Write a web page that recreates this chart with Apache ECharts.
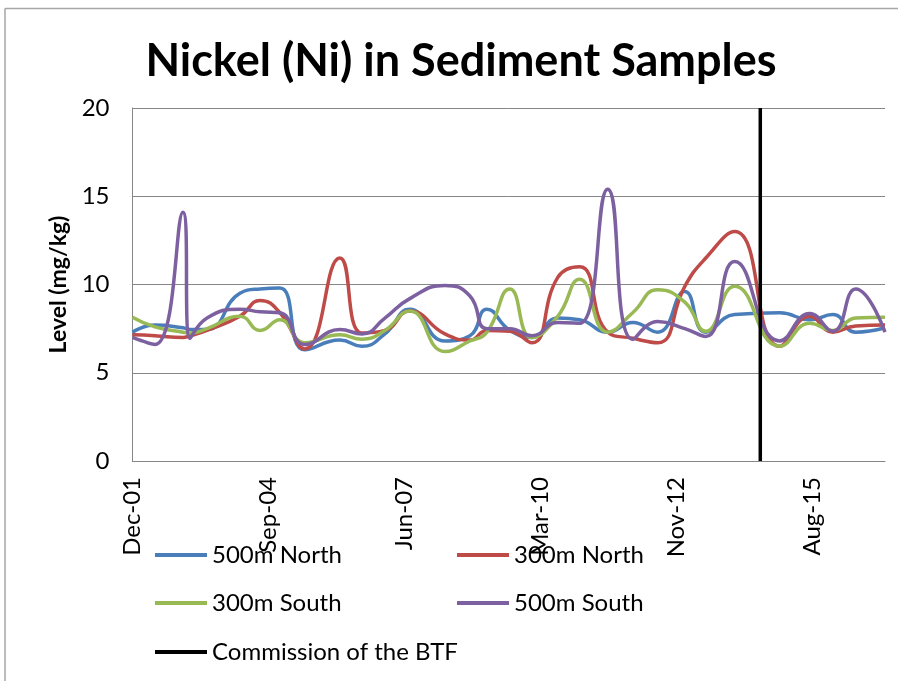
<!DOCTYPE html>
<html>
<head>
<meta charset="utf-8">
<script src="https://cdn.jsdelivr.net/npm/echarts@6/dist/echarts.min.js"></script>
<style>html,body{margin:0;padding:0;background:#fff}#c{width:903px;height:681px}</style>
</head>
<body>
<div id="c"></div>
<script>
var startDate = '2001-12-15';
var endDate = '2017-02-07';
var commissionDate = '2014-08-05';
var sampleDates = ['2001-12-15','2002-05-29','2002-12-21','2003-02-11','2003-06-16','2004-02-13','2004-07-10','2004-12-03','2005-06-04','2006-02-17','2006-07-29','2007-01-14','2007-07-16','2008-03-30','2008-09-30','2009-02-02','2009-07-21','2009-12-29','2010-07-08','2010-12-16','2011-07-10','2012-01-10','2012-07-12','2013-01-27','2013-06-30','2014-01-29','2014-12-26','2015-08-04','2016-01-20','2016-07-07','2017-02-07'];
var north500 = [7.3,7.7,7.55,7.45,7.45,9.5,9.75,9.8,6.3,6.85,6.5,7.2,8.6,6.8,7.1,8.6,7.4,7.0,8.1,8.0,7.3,7.85,7.3,9.6,7.3,8.3,8.4,8.0,8.3,7.3,7.55];
var north300 = [7.15,7.1,7.0,7.1,7.4,8.2,9.1,8.4,6.35,11.5,7.25,7.4,8.5,7.2,6.85,7.4,7.35,6.7,10.4,11.0,7.3,6.95,6.7,9.9,11.5,13.0,6.5,8.2,7.3,7.65,7.7];
var south300 = [8.15,7.6,7.3,7.25,7.5,8.2,7.4,8.0,6.7,7.15,6.9,7.4,8.5,6.2,6.8,7.3,9.75,7.0,8.2,10.3,7.3,8.4,9.7,9.0,7.35,9.9,6.5,7.8,7.4,8.1,8.15];
var south500 = [7.0,6.6,14.1,6.95,8.1,8.6,8.45,8.4,6.6,7.45,7.2,8.1,9.2,9.95,9.35,7.5,7.5,7.1,7.85,7.8,15.4,6.9,7.9,7.5,7.05,11.3,6.8,8.35,7.35,9.75,7.3];
var commissionLevels = [0, 20];
var seriesNames = ['500m North','300m North','300m South','500m South','Commission of the BTF'];
var yTicks = [0,5,10,15,20];

var DAY = 86400000;
var t0 = Date.parse(startDate);
function dayOf(d){ return Math.round((Date.parse(d) - t0) / DAY); }
var MON = ['Jan','Feb','Mar','Apr','May','Jun','Jul','Aug','Sep','Oct','Nov','Dec'];
function pairs(vals){ return vals.map(function(v,i){ return [dayOf(sampleDates[i]), v]; }); }

var colors = ['#4A7EBB','#BE4B48','#98B954','#7D60A0','#000000'];
var FONT = 'Lato';
var lineW = 3.5;

function mkSeries(name, data, color){
  return {name:name, type:'line', data:data, smooth:0.5, showSymbol:false, symbol:'none',
    lineStyle:{width:lineW, color:color}, itemStyle:{color:color}, z: 2};
}

var legendPos = [[155,543],[457,543],[155,591],[457,591],[155,640]];
var legends = seriesNames.map(function(n,i){
  return {data:[n], left:legendPos[i][0], top:legendPos[i][1], padding:0, icon:'rect', itemWidth:52, itemHeight:4,
    selectedMode:false, textStyle:{fontFamily:FONT, fontSize:24, color:'#000'}};
});

var chart = echarts.init(document.getElementById('c'), null, {renderer:'canvas'});
chart.setOption({
  animation:false,
  backgroundColor:'#fff',
  title:{text:'Nickel (Ni) in Sediment Samples', left:456, top:34, textAlign:'center',
    textStyle:{fontFamily:FONT, fontWeight:'bold', fontSize:45, color:'#000'}},
  legend: legends,
  grid:{left:132.5, right:18, top:108, bottom:220, containLabel:false},
  xAxis:{type:'value', min:0, max:dayOf(endDate), interval:1000,
    axisLine:{show:true, lineStyle:{color:'#868686', width:1}},
    axisTick:{show:false}, splitLine:{show:false},
    axisLabel:{rotate:90, margin:16, fontFamily:FONT, fontSize:24, color:'#000', showMaxLabel:false,
      formatter:function(v){
        if (v % 1000 !== 0) return '';
        var d = new Date(t0 + v*DAY);
        return MON[d.getUTCMonth()] + '-' + String(d.getUTCFullYear()).slice(2);
      }}},
  yAxis:{type:'value', min:yTicks[0], max:yTicks[yTicks.length-1], interval:5,
    name:'Level (mg/kg)', nameLocation:'middle', nameGap:62,
    nameTextStyle:{fontFamily:FONT, fontWeight:'bold', fontSize:23, color:'#000'},
    axisLine:{show:true, lineStyle:{color:'#868686', width:1}},
    axisTick:{show:false},
    splitLine:{show:true, lineStyle:{color:'#868686', width:1}},
    axisLabel:{margin:23, fontFamily:FONT, fontSize:24, color:'#000'}},
  graphic:[
    {type:'line', shape:{x1:5, y1:8.5, x2:898, y2:8.5}, style:{stroke:'#a6a6a6', lineWidth:1.5}, silent:true},
    {type:'line', shape:{x1:5, y1:8.5, x2:5, y2:681}, style:{stroke:'#a6a6a6', lineWidth:1.5}, silent:true}
  ],
  series:[
    mkSeries(seriesNames[0], pairs(north500), colors[0]),
    mkSeries(seriesNames[1], pairs(north300), colors[1]),
    mkSeries(seriesNames[2], pairs(south300), colors[2]),
    mkSeries(seriesNames[3], pairs(south500), colors[3]),
    {name:seriesNames[4], type:'line', showSymbol:false, symbol:'none',
      data: commissionLevels.map(function(v){ return [dayOf(commissionDate), v]; }),
      lineStyle:{width:3.5, color:'#000'}, itemStyle:{color:'#000'}, z:3}
  ]
});
</script>
</body>
</html>
